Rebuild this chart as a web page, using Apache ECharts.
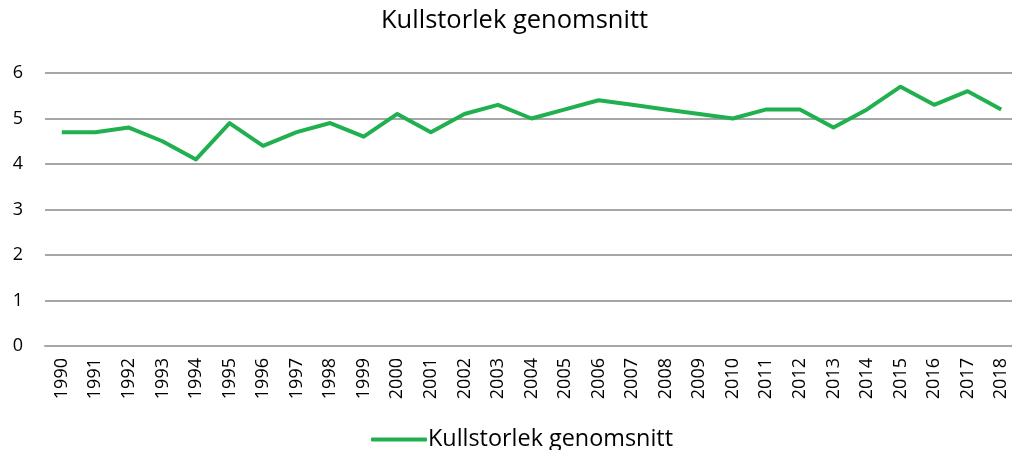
<!DOCTYPE html>
<html>
<head>
<meta charset="utf-8">
<script src="https://cdn.jsdelivr.net/npm/echarts@6/dist/echarts.min.js"></script>
<style>
    html, body { margin: 0; padding: 0; background: #fff; }
    #chart { width: 1012px; height: 450px; }
</style>
</head>
<body>
<div id="chart"></div>
<script>
    var years = ['1990', '1991', '1992', '1993', '1994', '1995', '1996', '1997', '1998', '1999',
        '2000', '2001', '2002', '2003', '2004', '2005', '2006', '2007', '2008', '2009',
        '2010', '2011', '2012', '2013', '2014', '2015', '2016', '2017', '2018'];
    var kullstorlek = [4.7, 4.7, 4.8, 4.5, 4.1, 4.9, 4.4, 4.7, 4.9, 4.6,
        5.1, 4.7, 5.1, 5.3, 5.0, 5.2, 5.4, 5.3, 5.2, 5.1,
        5.0, 5.2, 5.2, 4.8, 5.2, 5.7, 5.3, 5.6, 5.2];
    var seriesName = 'Kullstorlek genomsnitt';

    var font = '"Open Sans", "Liberation Sans", sans-serif';

    var option = {
        animation: false,
        title: {
            text: seriesName,
            left: 376,
            top: 3,
            textStyle: { fontFamily: font, fontSize: 25.5, fontWeight: 'normal', color: '#000' }
        },
        legend: {
            data: [seriesName],
            top: 423,
            left: 366,
            itemWidth: 56,
            itemHeight: 4,
            itemGap: 4,
            icon: 'roundRect',
            textStyle: { fontFamily: font, fontSize: 23.4, color: '#000', padding: [0, 0, 0, -4] }
        },
        grid: {
            left: 45,
            right: -6,
            top: 73,
            bottom: 104,
            outerBoundsMode: 'none'
        },
        xAxis: {
            type: 'category',
            data: years,
            boundaryGap: true,
            axisLine: { lineStyle: { color: '#a6a6a6', width: 2 } },
            axisTick: { show: false },
            axisLabel: {
                rotate: 90,
                interval: 0,
                fontFamily: font,
                fontSize: 18,
                color: '#000',
                margin: 12
            }
        },
        yAxis: {
            type: 'value',
            min: 0,
            max: 6,
            interval: 1,
            axisLine: { show: false },
            axisTick: { show: false },
            axisLabel: { fontFamily: font, fontSize: 18, color: '#000', margin: 22 },
            splitLine: { lineStyle: { color: '#a6a6a6', width: 2 } }
        },
        series: [{
            name: seriesName,
            type: 'line',
            data: kullstorlek,
            symbol: 'none',
            color: '#21b050',
            lineStyle: { width: 4, color: '#21b050', join: 'round' }
        }]
    };

    var chart = echarts.init(document.getElementById('chart'));
    chart.setOption(option);
</script>
</body>
</html>
